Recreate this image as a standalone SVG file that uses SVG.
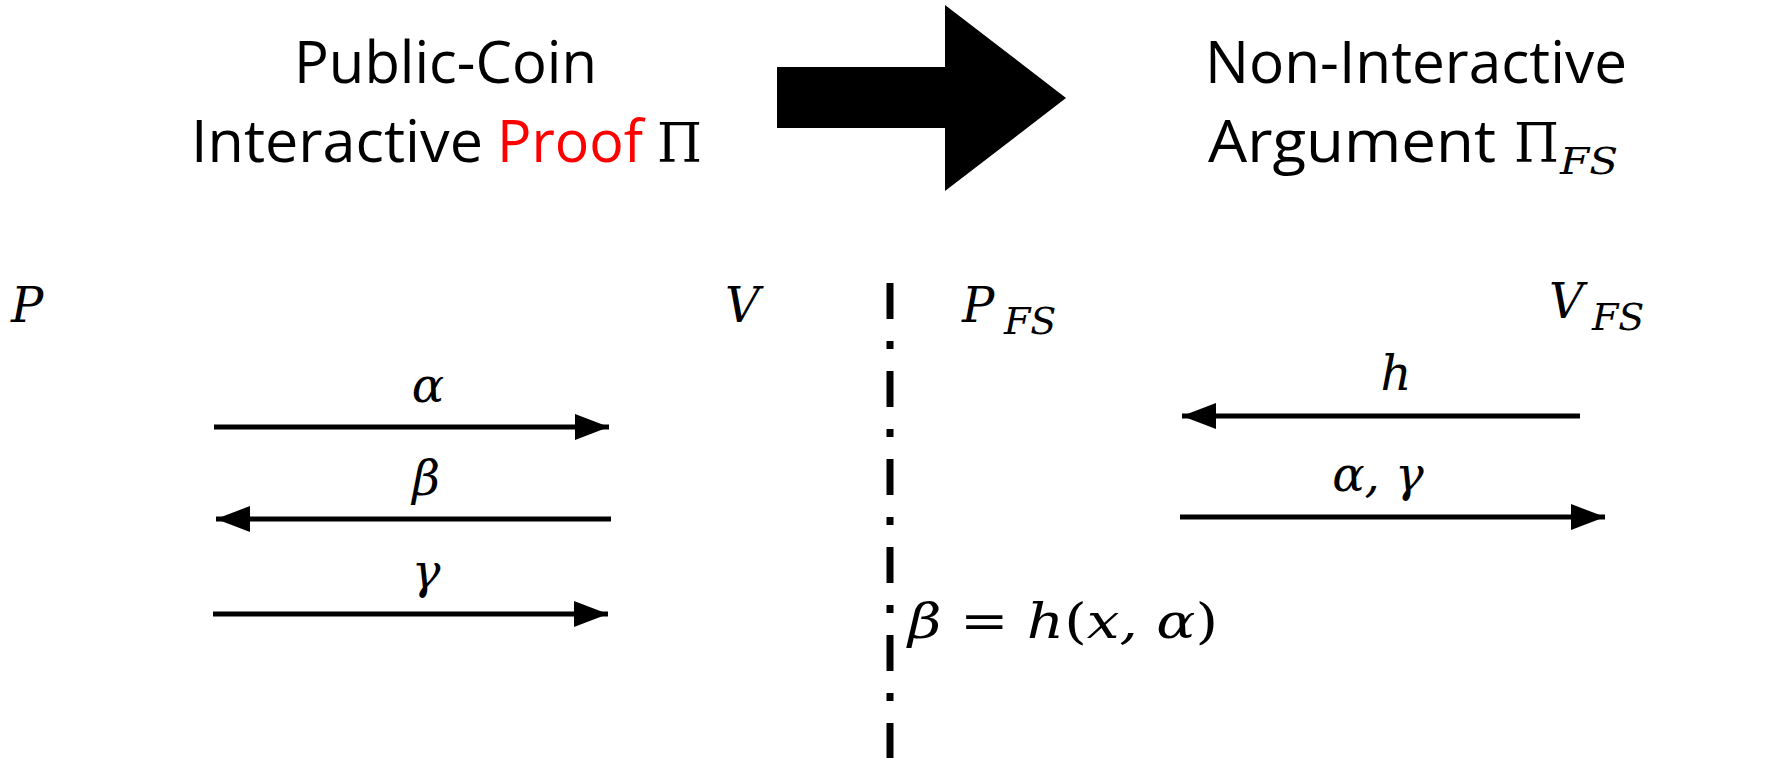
<svg xmlns="http://www.w3.org/2000/svg" width="1782" height="758" viewBox="0 0 1782 758">
<style>
.title{font-family:"Open Sans","Liberation Sans",sans-serif;font-size:59px;fill:#000}
.math{font-family:"DejaVu Serif","Liberation Serif",serif;font-style:italic;font-size:48px;fill:#000}
.up{font-family:"DejaVu Serif","Liberation Serif",serif;font-size:54px;fill:#000}
.sub{font-family:"DejaVu Serif","Liberation Serif",serif;font-style:italic;font-size:38px;fill:#000}
.conn{stroke:#000;stroke-width:5;fill:none}
</style>
<defs>
<marker id="ah" markerWidth="34" markerHeight="26" refX="34" refY="13" orient="auto" markerUnits="userSpaceOnUse">
<path d="M0,0 L34,13 L0,26 Z" fill="#000"/>
</marker>
</defs>
<rect width="1782" height="758" fill="#fff"/>
<g id="title-left">
<text class="title" x="294" y="83" textLength="303" lengthAdjust="spacingAndGlyphs">Public-Coin</text>
<text class="title" x="191" y="162" textLength="292" lengthAdjust="spacingAndGlyphs">Interactive</text>
<text class="title" x="497" y="162" textLength="146" lengthAdjust="spacingAndGlyphs" style="fill:#FF0000">Proof</text>
<text class="up" x="657" y="162" textLength="45" lengthAdjust="spacingAndGlyphs">Π</text>
</g>
<g id="big-arrow">
<polygon points="777,67 945,67 945,5 1066,98 945,191 945,128 777,128" fill="#000"/>
</g>
<g id="title-right">
<text class="title" x="1205" y="83" textLength="422" lengthAdjust="spacingAndGlyphs">Non-Interactive</text>
<text class="title" x="1208" y="162" textLength="288" lengthAdjust="spacingAndGlyphs">Argument</text>
<text class="up" x="1514" y="162" textLength="45" lengthAdjust="spacingAndGlyphs">Π</text>
<text class="sub" x="1560" y="174" textLength="58" lengthAdjust="spacingAndGlyphs">FS</text>
</g>
<g id="node-P"><text class="math" x="11" y="322">P</text></g>
<g id="node-V"><text class="math" x="725" y="322">V</text></g>
<g id="node-PFS"><text class="math" x="962" y="322">P</text><text class="sub" x="1004" y="334">FS</text></g>
<g id="node-VFS"><text class="math" x="1549" y="318">V</text><text class="sub" x="1592" y="330">FS</text></g>
<g id="divider">
<line x1="890" y1="283" x2="890" y2="758" stroke="#000" stroke-width="7" stroke-dasharray="36 22 8 22"/>
</g>
<g id="connectors">
<line class="conn" x1="214" y1="427" x2="609" y2="427" marker-end="url(#ah)"/>
<line class="conn" x1="611" y1="519" x2="216" y2="519" marker-end="url(#ah)"/>
<line class="conn" x1="213" y1="614" x2="608" y2="614" marker-end="url(#ah)"/>
<line class="conn" x1="1580" y1="416" x2="1182" y2="416" marker-end="url(#ah)"/>
<line class="conn" x1="1180" y1="517" x2="1605" y2="517" marker-end="url(#ah)"/>
</g>
<g id="labels">
<text class="math" x="428" y="402" text-anchor="middle">α</text>
<text class="math" x="426" y="495" text-anchor="middle">β</text>
<text class="math" x="426" y="588" text-anchor="middle">γ</text>
<text class="math" x="1396" y="390" text-anchor="middle">h</text>
<text class="math" x="1378" y="491" text-anchor="middle">α, γ</text>
<text class="math" x="908" y="638" textLength="310" lengthAdjust="spacingAndGlyphs">β <tspan style="font-style:normal">=</tspan> h<tspan style="font-style:normal">(</tspan>x, α<tspan style="font-style:normal">)</tspan></text>
</g>
</svg>
